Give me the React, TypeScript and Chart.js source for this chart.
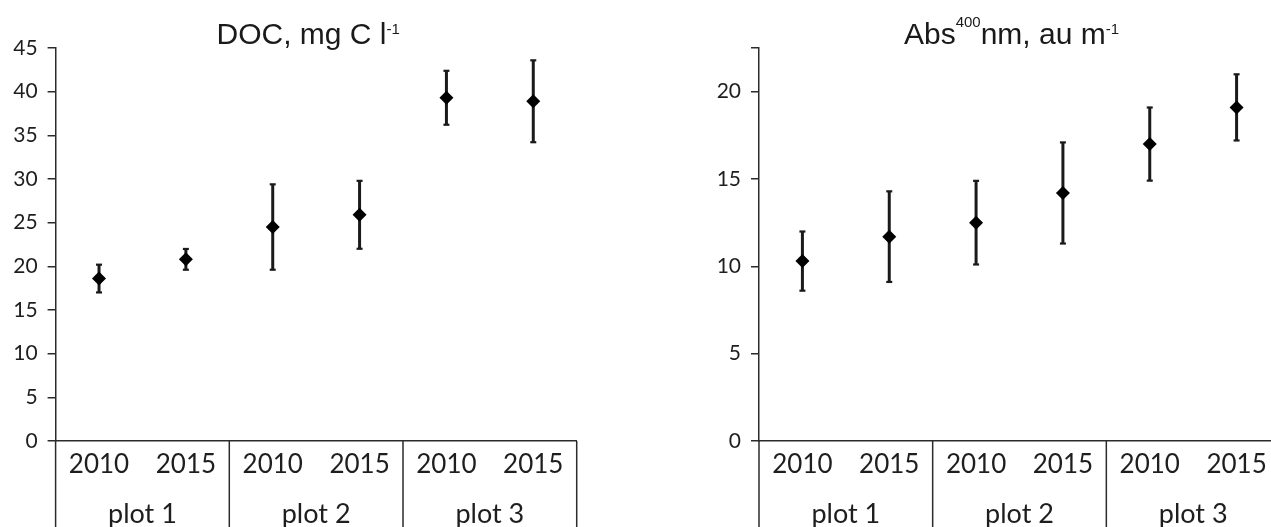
import React, { useEffect, useRef } from 'react';
import { Chart, registerables } from 'chart.js';

Chart.register(...registerables);

// ---------- data ----------
const plotNames = ['plot 1', 'plot 2', 'plot 3'];
const yearLabels = ['2010', '2015'];
const categoryYears = plotNames.flatMap(() => yearLabels);

const docMean = [18.6, 20.8, 24.5, 25.9, 39.3, 38.9];
const docErr = [1.6, 1.2, 4.9, 3.9, 3.1, 4.7];
const docTickValues = [0, 5, 10, 15, 20, 25, 30, 35, 40, 45];
const docTickLabels = ['0', '5', '10', '15', '20', '25', '30', '35', '40', '45'];

const absMean = [10.3, 11.7, 12.5, 14.2, 17.0, 19.1];
const absErr = [1.7, 2.6, 2.4, 2.9, 2.1, 1.9];
const absTickValues = [0, 5, 10, 15, 20, 22.5];
const absTickLabels = ['0', '5', '10', '15', '20', ''];

const docTitleParts = ['DOC, mg C l', '-1'];
const absTitleParts = ['Abs', '400', 'nm, au m', '-1'];

// ---------- styling ----------
const AXIS = '#2b2b2b';
const TEXT = '#1e1e1e';
const LABEL_FONT = 'Lato, "Open Sans", sans-serif';
const TITLE_FONT = '"Liberation Sans", Arial, sans-serif';

type Part = { text: string; rise: number };

function richTitlePlugin(parts: Part[], offsetX: number) {
  return {
    id: 'richTitle',
    afterDraw(chart: any) {
      const { ctx, chartArea } = chart;
      const main = `30px ${TITLE_FONT}`;
      const sup = `15px ${TITLE_FONT}`;
      ctx.save();
      const widths = parts.map((p) => {
        ctx.font = p.rise ? sup : main;
        return ctx.measureText(p.text).width;
      });
      const total = widths.reduce((a, b) => a + b, 0);
      let x = (chartArea.left + chartArea.right) / 2 + offsetX - total / 2;
      const base = 44;
      ctx.fillStyle = '#1a1a1a';
      ctx.textAlign = 'left';
      ctx.textBaseline = 'alphabetic';
      parts.forEach((p, i) => {
        ctx.font = p.rise ? sup : main;
        ctx.fillText(p.text, x, base - p.rise);
        x += widths[i];
      });
      ctx.restore();
    },
  };
}

const errorBarPlugin = {
  id: 'errorBars',
  beforeDatasetsDraw(chart: any) {
    const { ctx } = chart;
    const xs = chart.scales.x;
    const ys = chart.scales.y;
    chart.data.datasets.forEach((ds: any) => {
      const errs: number[] = ds.errors || [];
      ds.data.forEach((v: number, i: number) => {
        const e = errs[i];
        if (e == null) return;
        const px = xs.getPixelForValue(i);
        const top = ys.getPixelForValue(v + e);
        const bot = ys.getPixelForValue(v - e);
        ctx.save();
        ctx.strokeStyle = '#1a1a1a';
        ctx.lineWidth = 3;
        ctx.beginPath();
        ctx.moveTo(px, top);
        ctx.lineTo(px, bot);
        ctx.stroke();
        ctx.fillStyle = '#1a1a1a';
        ctx.fillRect(px - 3, top - 1, 6, 2.2);
        ctx.fillRect(px - 3, bot - 1.2, 6, 2.2);
        ctx.restore();
      });
    });
  },
};

const groupLinesPlugin = {
  id: 'groupLines',
  afterDraw(chart: any) {
    const { ctx } = chart;
    const xs = chart.scales.x;
    const size = yearLabels.length;
    ctx.save();
    ctx.strokeStyle = AXIS;
    ctx.lineWidth = 1.5;
    for (let g = 0; g <= plotNames.length; g++) {
      const px = xs.getPixelForValue(g * size - 0.5);
      ctx.beginPath();
      ctx.moveTo(px, xs.top);
      ctx.lineTo(px, chart.height);
      ctx.stroke();
    }
    ctx.restore();
  },
};

function buildConfig(
  means: number[],
  errs: number[],
  tickValues: number[],
  tickLabels: string[],
  yMax: number,
  yAxisWidth: number,
  padRight: number,
  title: Part[]
): any {
  return {
    type: 'line',
    data: {
      labels: categoryYears,
      datasets: [
        {
          data: means,
          errors: errs,
          showLine: false,
          pointStyle: 'rectRot',
          pointRadius: 7,
          pointBorderWidth: 0,
          pointBackgroundColor: '#000',
          pointBorderColor: '#000',
          backgroundColor: '#000',
          borderColor: '#000',
        },
      ],
    },
    options: {
      responsive: false,
      animation: false,
      events: [],
      layout: { padding: { top: 48, right: padRight, left: 0, bottom: 0 } },
      plugins: {
        legend: { display: false },
        tooltip: { enabled: false },
        title: { display: false },
      },
      scales: {
        x: {
          type: 'category',
          position: 'bottom',
          offset: true,
          weight: 0,
          grid: { display: false },
          border: { display: true, color: AXIS, width: 1.5 },
          ticks: {
            color: TEXT,
            font: { family: LABEL_FONT, size: 26 },
            padding: 0,
            maxRotation: 0,
            autoSkip: false,
          },
          afterFit: (s: any) => {
            s.height = 40;
          },
        },
        x2: {
          type: 'category',
          axis: 'x',
          labels: plotNames,
          position: 'bottom',
          offset: true,
          weight: 1,
          grid: { display: false },
          border: { display: false },
          ticks: {
            color: TEXT,
            font: { family: LABEL_FONT, size: 27 },
            padding: 9,
            maxRotation: 0,
            autoSkip: false,
          },
          afterFit: (s: any) => {
            s.height = 79;
          },
        },
        y: {
          type: 'linear',
          min: 0,
          max: yMax,
          afterBuildTicks: (s: any) => {
            s.ticks = tickValues.map((v) => ({ value: v }));
          },
          ticks: {
            color: TEXT,
            font: { family: LABEL_FONT, size: 21 },
            padding: 10,
            callback: (_v: any, i: number) => tickLabels[i],
          },
          grid: {
            display: true,
            drawOnChartArea: false,
            drawTicks: true,
            tickLength: 8,
            color: AXIS,
            lineWidth: 1.5,
          },
          border: { display: true, color: AXIS, width: 1.5 },
          afterFit: (s: any) => {
            s.width = yAxisWidth;
          },
        },
      },
    },
    plugins: [errorBarPlugin, groupLinesPlugin, richTitlePlugin(title, -8)],
  };
}

function ChartCanvas(props: { left: number; width: number; height: number; make: () => any }) {
  const ref = useRef<HTMLCanvasElement>(null);
  useEffect(() => {
    const chart = new Chart(ref.current as HTMLCanvasElement, props.make());
    return () => chart.destroy();
  }, []);
  return (
    <canvas
      ref={ref}
      width={props.width}
      height={props.height}
      style={{ position: 'absolute', left: props.left, top: 0, width: props.width, height: props.height }}
    />
  );
}

export default function App() {
  const docTitle: Part[] = [
    { text: docTitleParts[0], rise: 0 },
    { text: docTitleParts[1], rise: 10 },
  ];
  const absTitle: Part[] = [
    { text: absTitleParts[0], rise: 0 },
    { text: absTitleParts[1], rise: 17 },
    { text: absTitleParts[2], rise: 0 },
    { text: absTitleParts[3], rise: 10 },
  ];
  return (
    <div
      style={{
        position: 'fixed',
        left: 0,
        top: 0,
        width: 1271,
        height: 527,
        overflow: 'hidden',
        background: '#fff',
      }}
    >
      <ChartCanvas
        left={0}
        width={640}
        height={560}
        make={() => buildConfig(docMean, docErr, docTickValues, docTickLabels, 45, 55.6, 63.3, docTitle)}
      />
      <ChartCanvas
        left={640}
        width={650}
        height={560}
        make={() => buildConfig(absMean, absErr, absTickValues, absTickLabels, 22.5, 119, 10, absTitle)}
      />
    </div>
  );
}
